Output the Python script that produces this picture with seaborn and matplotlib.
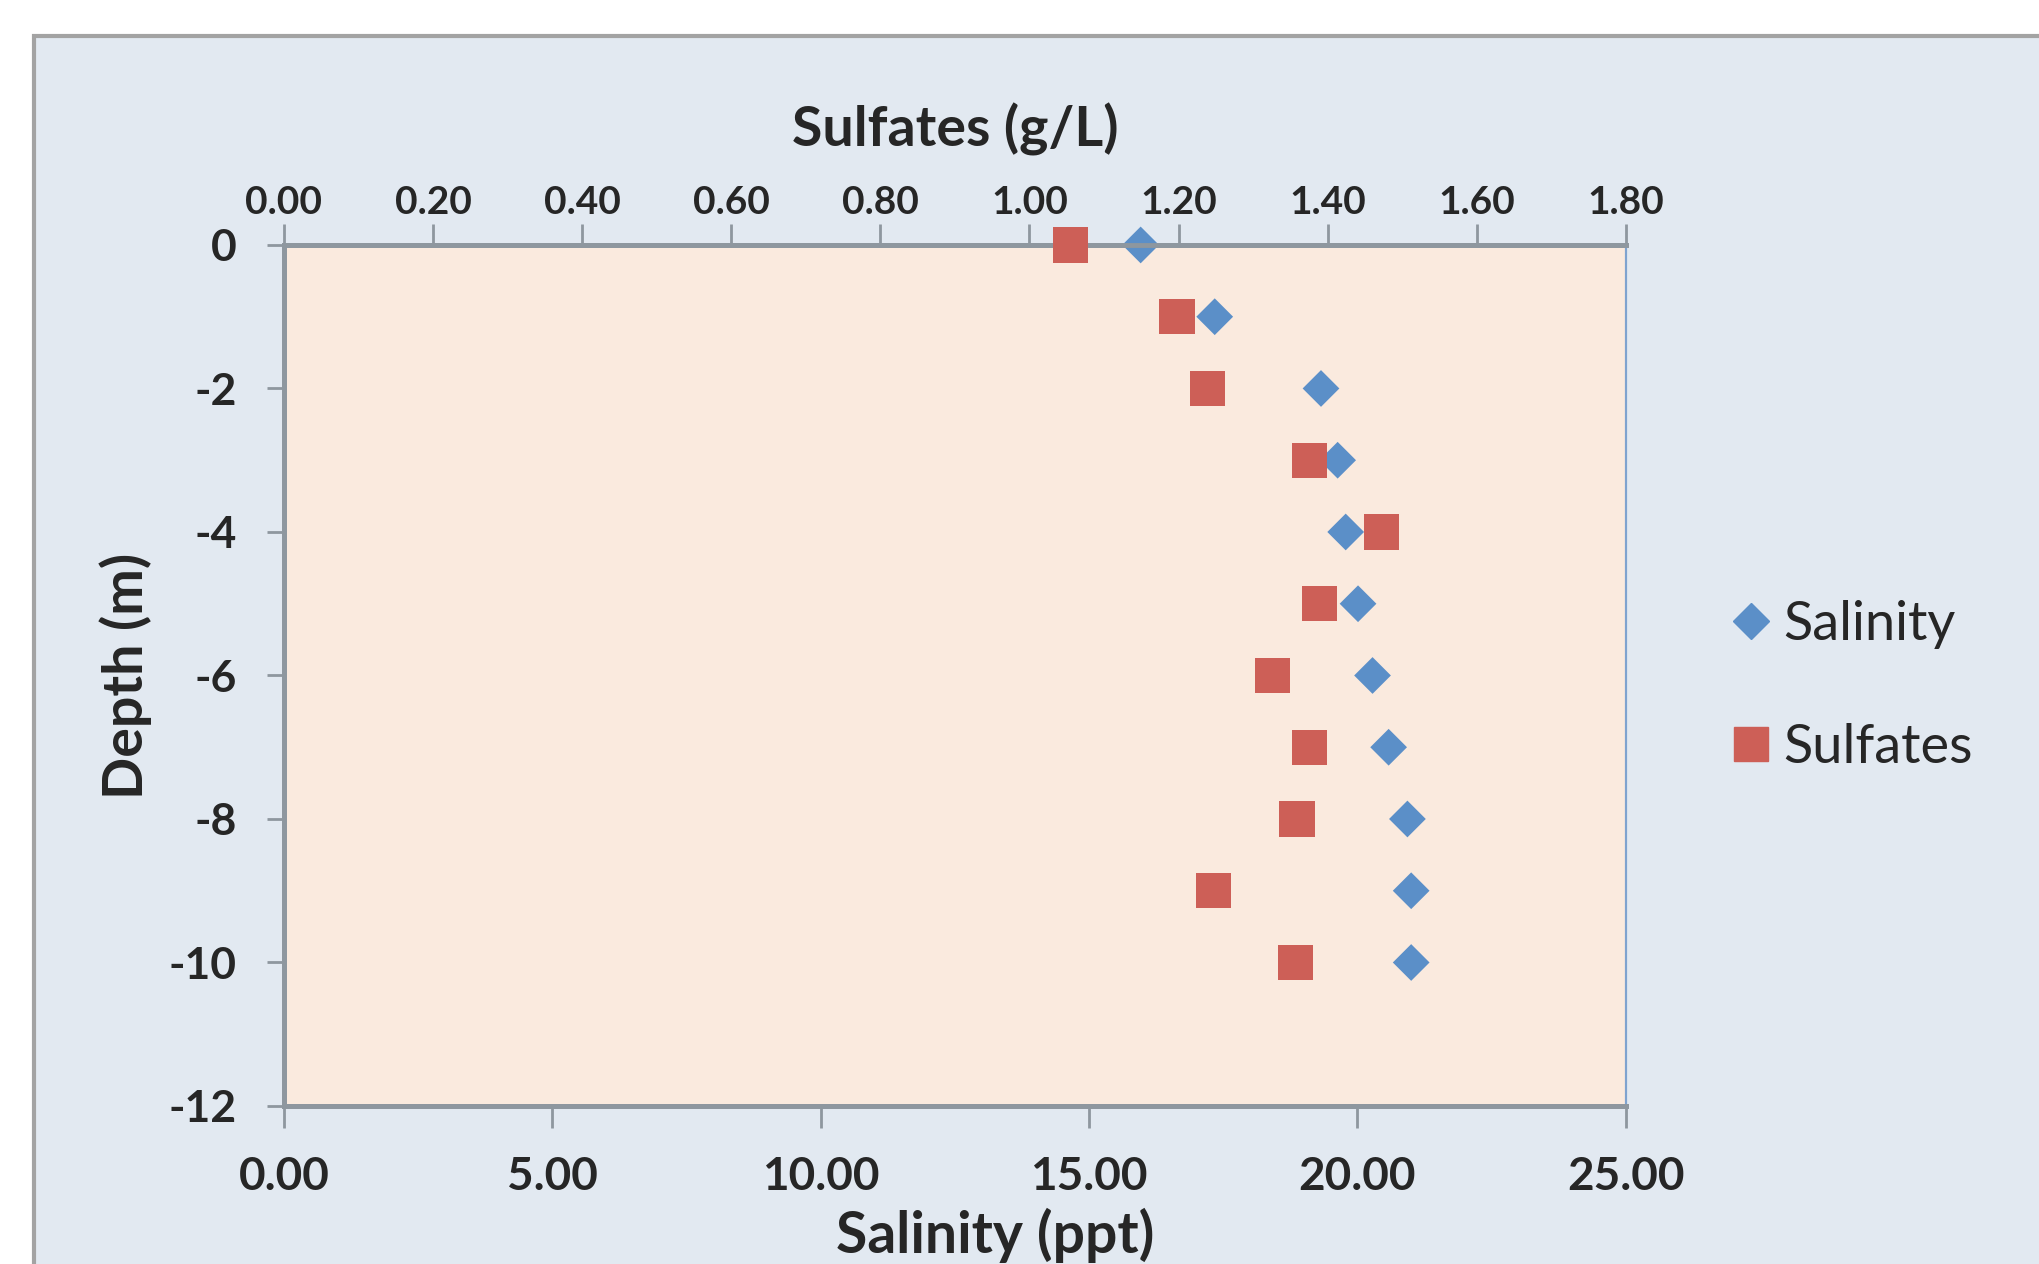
import matplotlib
matplotlib.use("Agg")
import matplotlib.pyplot as plt
import seaborn as sns
from matplotlib.patches import Rectangle
from matplotlib.lines import Line2D

# values
depth = [0, -1, -2, -3, -4, -5, -6, -7, -8, -9, -10]
salinity = [15.96, 17.34, 19.32, 19.63, 19.78, 20.01, 20.28, 20.58, 20.93, 21.00, 21.00]
sulfates = [1.055, 1.198, 1.239, 1.376, 1.472, 1.389, 1.326, 1.376, 1.359, 1.247, 1.357]

sal_ticks = [0, 5, 10, 15, 20, 25]
sul_ticks = [0.0, 0.2, 0.4, 0.6, 0.8, 1.0, 1.2, 1.4, 1.6, 1.8]
depth_ticks = [0, -2, -4, -6, -8, -10, -12]

blue = "#5B8FC8"
red = "#CD5F57"
grey = "#8E979F"

sns.set_style("white")
plt.rcParams["font.family"] = ["Lato", "DejaVu Sans"]

fig = plt.figure(figsize=(20.4, 12.64), dpi=100)
fig.patch.set_facecolor("white")
# chart area frame (light blue), top/left border visible
fig.add_artist(Rectangle((34 / 2040, -0.1), 1.2, (1264 - 36) / 1264 + 0.1,
                         transform=fig.transFigure, facecolor="#E2E9F1",
                         edgecolor="#A3A3A3", lw=3, zorder=0))

ax = fig.add_axes([0.1392, 0.125, 0.6578, 0.6812])
ax.set_facecolor("#FAEADE")

sns.scatterplot(x=salinity, y=depth, ax=ax, marker="D", s=350, color=blue,
                edgecolor="none", clip_on=False, zorder=3, legend=False)

ax2 = ax.twiny()
sns.scatterplot(x=sulfates, y=depth, ax=ax2, marker="s", s=650, color=red,
                edgecolor="none", clip_on=False, zorder=3, legend=False)

ax.set_xlim(0, 25)
ax2.set_xlim(0, 1.8)
ax.set_ylim(-12, 0)

ax.set_xticks(sal_ticks)
ax.set_xticklabels([f"{v:.2f}" for v in sal_ticks], fontweight="bold")
ax.set_yticks(depth_ticks)
ax.set_yticklabels([str(v) for v in depth_ticks], fontweight="bold")
ax2.set_xticks(sul_ticks)
ax2.set_xticklabels([f"{v:.2f}" for v in sul_ticks], fontweight="bold")

ax.tick_params(axis="x", bottom=True, direction="out", length=16, width=2,
               color=grey, labelsize=33, pad=20)
ax.tick_params(axis="y", left=True, direction="out", length=12, width=2,
               color=grey, labelsize=32, pad=22)
ax2.tick_params(axis="x", top=True, direction="out", length=15, width=2,
                color=grey, labelsize=28, pad=3)

ax.set_xlabel("Salinity (ppt)", fontsize=41, fontweight="bold", labelpad=7)
ax.xaxis.label.set_x(0.53)
ax.set_ylabel("Depth (m)", fontsize=40, fontweight="bold", labelpad=12)
ax2.set_xlabel("Sulfates (g/L)", fontsize=40, fontweight="bold", labelpad=28)

for a in (ax, ax2):
    for side in ("left", "top", "bottom"):
        a.spines[side].set_color(grey)
        a.spines[side].set_linewidth(3.5)
    a.spines["right"].set_color("#7FA3CF")
    a.spines["right"].set_linewidth(1.5)

handles = [
    Line2D([], [], marker="D", color=blue, markersize=18, linestyle="None"),
    Line2D([], [], marker="s", color=red, markersize=24.5, linestyle="None"),
]
fig.legend(handles, ["Salinity", "Sulfates"], loc="center left",
           bbox_to_anchor=(0.845, 0.4573), frameon=False, fontsize=39,
           handlelength=1.0, handletextpad=0.1, labelspacing=1.38,
           borderpad=0, borderaxespad=0)

fig.savefig("out.png", dpi=100)
